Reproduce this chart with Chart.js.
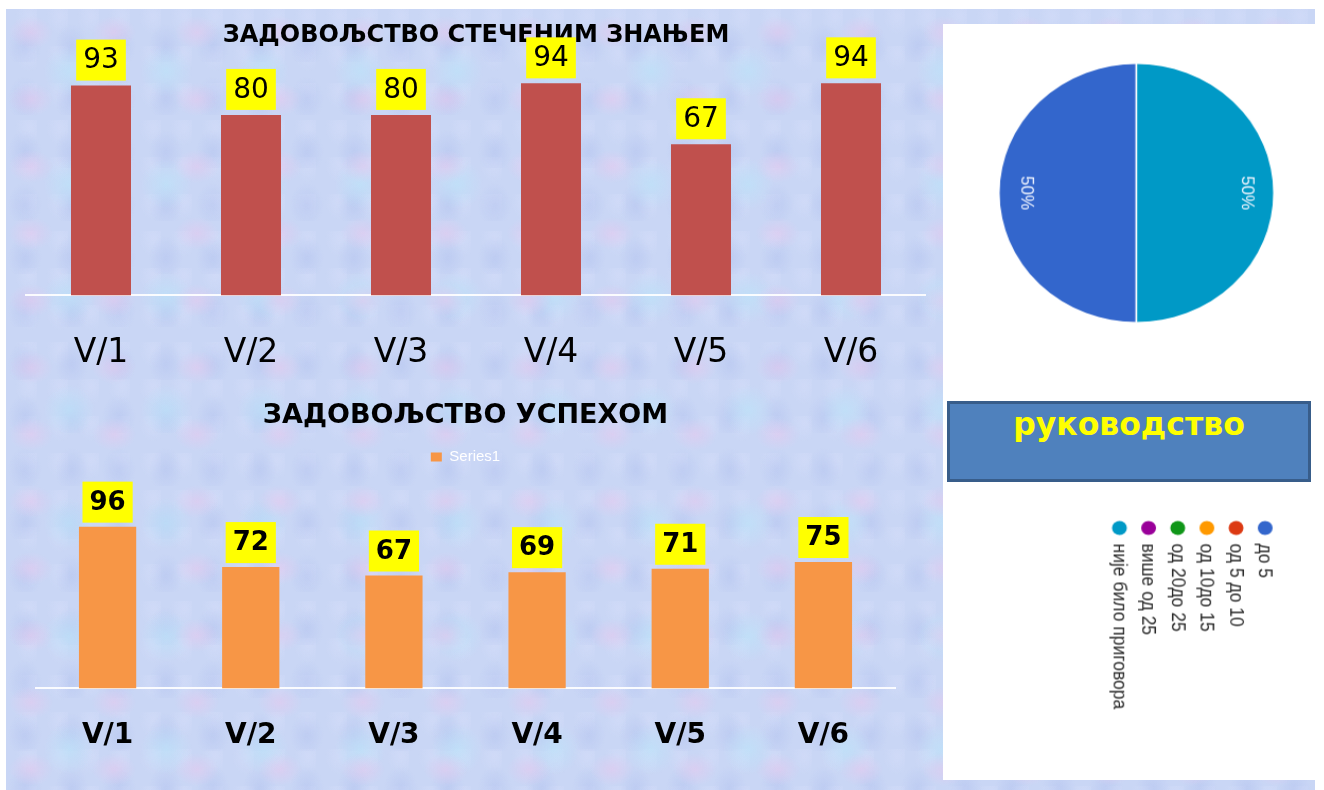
<!DOCTYPE html>
<html>
<head>
<meta charset="utf-8">
<script src="https://cdn.jsdelivr.net/npm/chart.js@4.4.0/dist/chart.umd.min.js"></script>
<style>
  html, body { margin: 0; padding: 0; background: #fff; }
  body { width: 1324px; height: 790px; position: relative; overflow: hidden; }
  #paper {
    position: absolute; left: 6px; top: 9px; width: 1309px; height: 781px;
    background-color: #c9d6f5;
    background-image:
      radial-gradient(ellipse at 30% 35%, rgba(230, 200, 238, 0.55) 0, rgba(230, 200, 238, 0) 22px),
      radial-gradient(ellipse at 65% 55%, rgba(186, 230, 250, 0.55) 0, rgba(186, 230, 250, 0) 26px),
      radial-gradient(ellipse at 40% 70%, rgba(176, 192, 238, 0.45) 0, rgba(176, 192, 238, 0) 17px),
      radial-gradient(ellipse at 75% 20%, rgba(214, 222, 250, 0.5) 0, rgba(214, 222, 250, 0) 14px);
    background-size: 83px 67px, 97px 113px, 47px 53px, 31px 37px;
  }
  #knowChart { position: absolute; left: 6px; top: 9px; }
  #successChart { position: absolute; left: 6px; top: 400px; }
  #panel { position: absolute; left: 943px; top: 24px; width: 372px; height: 756px; background: #fff; }
  #mgmtPie { position: absolute; left: 751px; top: 226.5px; transform: scaleX(1.06) rotate(90deg); }
  #mgmt {
    position: absolute; left: 947px; top: 401px; width: 358px; height: 75px;
    background: #4f81bd; border: 3px solid #385d8a;
    color: #ffff00; font: bold 31.5px "DejaVu Sans", sans-serif;
    text-align: center; line-height: 40px;
  }
</style>
</head>
<body>
<div id="paper"></div>
<canvas id="knowChart" width="920" height="402"></canvas>
<canvas id="successChart" width="900" height="390"></canvas>
<div id="panel"></div>
<canvas id="mgmtPie" width="756" height="351"></canvas>
<div id="mgmt">руководство</div>

<script>
const classes = ['V/1', 'V/2', 'V/3', 'V/4', 'V/5', 'V/6'];
const knowledgeScores = [93, 80, 80, 94, 67, 94];
const successScores = [96, 72, 67, 69, 71, 75];
const complaintBands = ['до 5', 'од 5 до 10', 'од 10до 15', 'од 20до 25', 'више од 25', 'није било приговора'];
const complaintShares = [50, 0, 0, 0, 0, 50];
const bandColors = ['#3366cc', '#dc3912', '#ff9900', '#109618', '#990099', '#0099c6'];

Chart.defaults.font.family = '"DejaVu Sans", sans-serif';
Chart.defaults.color = '#000';
Chart.defaults.animation = false;
Chart.defaults.plugins.tooltip.enabled = false;

// yellow value tags sitting on top of each bar
const valueTags = {
  id: 'valueTags',
  afterDatasetsDraw(chart, args, opts) {
    const ctx = chart.ctx;
    const values = chart.data.datasets[0].data;
    ctx.save();
    ctx.font = opts.font;
    ctx.textAlign = 'center';
    ctx.textBaseline = 'middle';
    chart.getDatasetMeta(0).data.forEach((bar, i) => {
      const text = String(values[i]);
      const w = ctx.measureText(text).width + 14;
      const bottom = bar.y - opts.gap;
      ctx.fillStyle = '#ffff00';
      ctx.fillRect(bar.x - w / 2, bottom - opts.height, w, opts.height);
      ctx.fillStyle = '#000';
      ctx.fillText(text, bar.x, bottom - opts.height / 2 + 1);
    });
    ctx.restore();
  }
};

function barAxes(tickFont, tickPad, yMax) {
  return {
    x: {
      grid: { display: false, drawTicks: false },
      border: { display: true, color: 'rgba(255,255,255,0.9)', width: 2 },
      ticks: { font: tickFont, color: '#000', padding: tickPad, maxRotation: 0 }
    },
    y: { display: false, min: 0, max: yMax }
  };
}

new Chart(document.getElementById('knowChart'), {
  type: 'bar',
  data: {
    labels: classes,
    datasets: [{ label: 'Series1', data: knowledgeScores, backgroundColor: '#c0504d',
      barPercentage: 0.4, categoryPercentage: 1 }]
  },
  options: {
    responsive: false,
    layout: { padding: { left: 20, right: 0, top: 0, bottom: 0 } },
    scales: barAxes({ size: 33 }, 38, 100),
    plugins: {
      legend: { display: false },
      title: { display: true, text: 'ЗАДОВОЉСТВО СТЕЧЕНИМ ЗНАЊЕМ', color: '#000',
        font: { size: 24, weight: 'bold' }, padding: { top: 12, bottom: 20 } },
      valueTags: { font: '28px "DejaVu Sans"', height: 41, gap: 5 }
    }
  },
  plugins: [valueTags]
});

new Chart(document.getElementById('successChart'), {
  type: 'bar',
  data: {
    labels: classes,
    datasets: [{ label: 'Series1', data: successScores, backgroundColor: '#f79646',
      barPercentage: 0.4, categoryPercentage: 1 }]
  },
  options: {
    responsive: false,
    layout: { padding: { left: 30, right: 11, top: 0, bottom: 6 } },
    scales: barAxes({ size: 28, weight: 'bold' }, 31, 127),
    plugins: {
      legend: { display: true, position: 'top',
        labels: { color: '#fff', boxWidth: 11, boxHeight: 9, padding: 10,
          font: { size: 15, family: '"Liberation Sans", Arial, sans-serif' } } },
      title: { display: true, text: 'ЗАДОВОЉСТВО УСПЕХОМ', color: '#000',
        font: { size: 27, weight: 'bold' }, padding: { top: 0, bottom: 7 } },
      valueTags: { font: 'bold 26px "DejaVu Sans"', height: 41, gap: 4 }
    }
  },
  plugins: [valueTags]
});

// percentage text inside non-empty slices
const sliceLabels = {
  id: 'sliceLabels',
  afterDatasetsDraw(chart) {
    const ctx = chart.ctx;
    const data = chart.data.datasets[0].data;
    const total = data.reduce((a, b) => a + b, 0);
    ctx.save();
    ctx.font = '17px "Liberation Sans", Arial, sans-serif';
    ctx.fillStyle = '#f2f6ff';
    ctx.textAlign = 'center';
    ctx.textBaseline = 'middle';
    chart.getDatasetMeta(0).data.forEach((arc, i) => {
      if (!data[i]) return;
      const p = arc.getProps(['x', 'y', 'startAngle', 'endAngle', 'outerRadius'], true);
      const mid = (p.startAngle + p.endAngle) / 2;
      const r = p.outerRadius * 0.8;
      ctx.fillText(Math.round(data[i] / total * 100) + '%', p.x + Math.cos(mid) * r, p.y + Math.sin(mid) * r);
    });
    ctx.restore();
  }
};

// dot legend listed beside the pie
const dotLegend = {
  id: 'dotLegend',
  afterDraw(chart) {
    const ctx = chart.ctx;
    const colors = chart.data.datasets[0].backgroundColor;
    ctx.save();
    ctx.font = '17.5px "Liberation Sans", Arial, sans-serif';
    ctx.textBaseline = 'middle';
    chart.data.labels.forEach((label, i) => {
      const y = 47 + i * 27.5;
      ctx.fillStyle = colors[i];
      ctx.beginPath();
      ctx.arc(503.5, y, 7, 0, Math.PI * 2);
      ctx.fill();
      ctx.fillStyle = '#2a2a2a';
      ctx.fillText(label, 519, y + 1);
    });
    ctx.restore();
  }
};

new Chart(document.getElementById('mgmtPie'), {
  type: 'pie',
  data: {
    labels: complaintBands,
    datasets: [{ data: complaintShares, backgroundColor: bandColors, borderColor: '#fff', borderWidth: 1.5 }]
  },
  options: {
    responsive: false,
    rotation: 90,
    layout: { padding: { left: 38, right: 457, top: 38, bottom: 52 } },
    plugins: { legend: { display: false } }
  },
  plugins: [sliceLabels, dotLegend]
});
</script>
</body>
</html>
